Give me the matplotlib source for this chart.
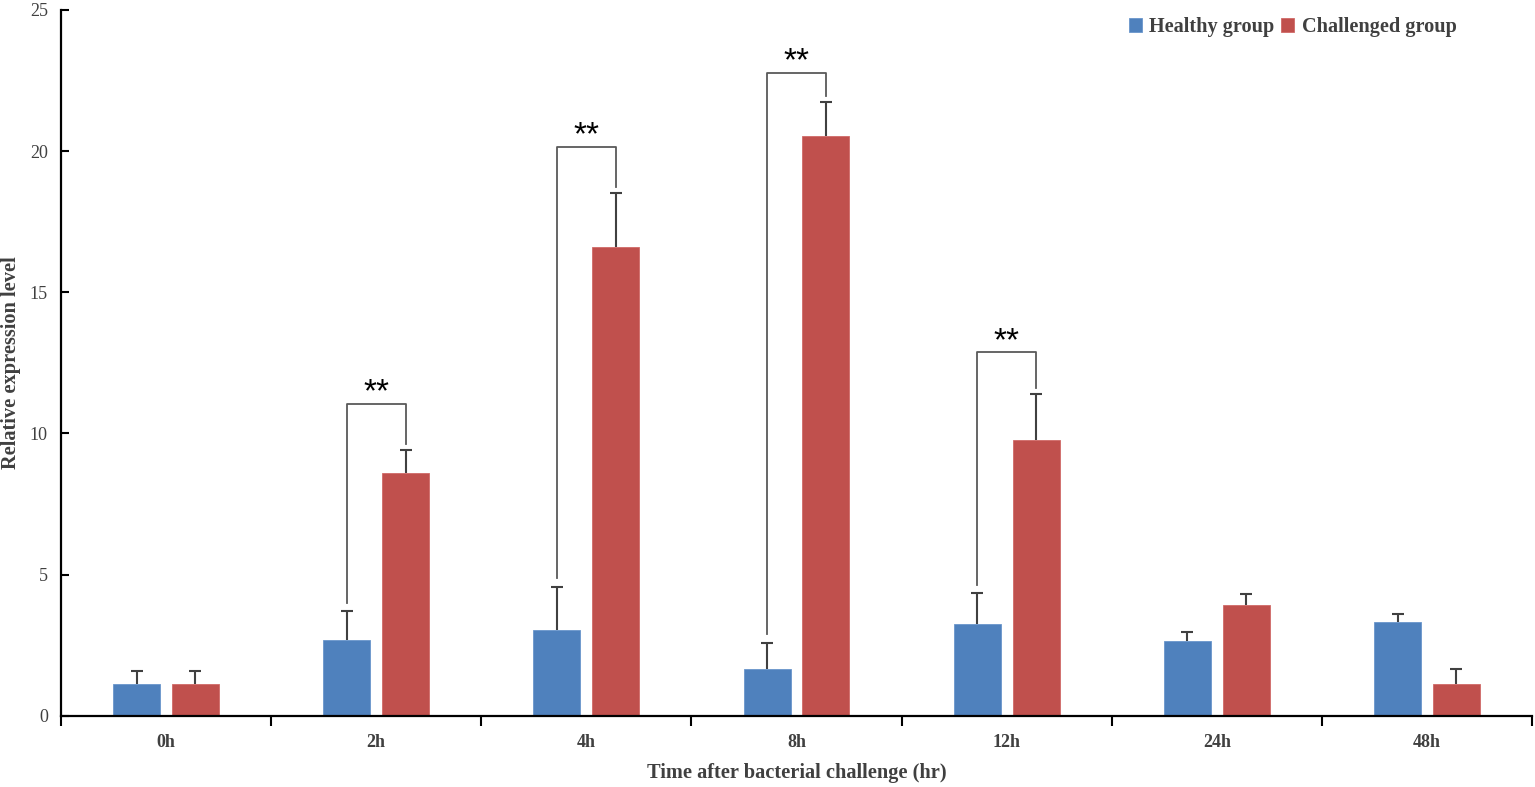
import matplotlib
matplotlib.use("Agg")
import matplotlib.pyplot as plt
import numpy as np

categories = ["0h", "2h", "4h", "8h", "12h", "24h", "48h"]
healthy = [1.13, 2.69, 3.05, 1.66, 3.26, 2.66, 3.33]
healthy_err = [0.47, 1.01, 1.52, 0.92, 1.08, 0.31, 0.26]
challenged = [1.13, 8.60, 16.61, 20.55, 9.76, 3.92, 1.11]
challenged_err = [0.47, 0.82, 1.89, 1.19, 1.63, 0.38, 0.53]

sig_index = [1, 2, 3, 4]
sig_top = [11.05, 20.15, 22.78, 12.87]
sig_label = ["**", "**", "**", "**"]

blue = "#4F81BD"
red = "#C0504D"
serif = ["Liberation Serif", "DejaVu Serif"]

fig = plt.figure(figsize=(15.35, 7.87), dpi=100)
ax = fig.add_axes([61/1535, 71.3/787, 1471/1535, 705.7/787])

x = np.arange(len(categories))
off = 0.14
w = 0.224
ax.bar(x - off, healthy, w, color=blue, edgecolor="#6A96CC", linewidth=0.6, zorder=2,
       label="Healthy group")
ax.bar(x + off, challenged, w, color=red, edgecolor="#D06A67", linewidth=0.6, zorder=2,
       label="Challenged group")
for xs, ys, es in [(x - off, healthy, healthy_err), (x + off, challenged, challenged_err)]:
    cont = ax.errorbar(xs, ys, yerr=[np.zeros(len(x)), es], fmt="none",
                       ecolor="#404040", elinewidth=1.5, capsize=4, capthick=1.5, zorder=3)
    caps = cont.lines[1]
    if len(caps) >= 2:
        caps[0].set_visible(False)

gap = 0.3
for i, top, lab in zip(sig_index, sig_top, sig_label):
    x1 = i - off
    x2 = i + off
    y1 = healthy[i] + healthy_err[i] + gap
    y2 = challenged[i] + challenged_err[i] + 0.22
    ax.plot([x1, x1, x2, x2], [y1, top, top, y2], color="#595959", lw=1.3, zorder=3)
    ax.text(i, top + 0.08, lab, ha="center", va="baseline", fontsize=24,
            family=["Liberation Sans", "DejaVu Sans"], color="black")

ax.set_xlim(-0.5, len(categories) - 0.5)
ax.set_ylim(0, 25)
ax.set_yticks([0, 5, 10, 15, 20, 25])
ax.set_xticks(x)
ax.set_xticklabels(categories)
ax.set_xticks(np.arange(-0.5, len(categories) + 0.5, 1), minor=True)
ax.tick_params(axis="x", which="major", length=0, pad=13)
ax.tick_params(axis="x", which="minor", direction="out", length=7, width=1.5, color="black")
ax.tick_params(axis="y", direction="in", length=6, width=1.5, pad=9.5, color="black")

for lbl in ax.get_xticklabels():
    lbl.set_fontfamily(serif)
    lbl.set_fontweight("bold")
    lbl.set_fontsize(13)
    lbl.set_color("#404040")
for lbl in ax.get_yticklabels():
    lbl.set_fontfamily(serif)
    lbl.set_fontsize(13)
    lbl.set_color("#404040")

for s in ["top", "right"]:
    ax.spines[s].set_visible(False)
for s in ["left", "bottom"]:
    ax.spines[s].set_linewidth(1.6)
    ax.spines[s].set_color("black")

ax.set_xlabel("Time after bacterial challenge (hr)", fontfamily=serif, fontweight="bold",
              fontsize=14.7, color="#404040", labelpad=9)
ax.set_ylabel("Relative expression level", fontfamily=serif, fontweight="bold",
              fontsize=14.7, color="#404040")
ax.yaxis.set_label_coords(-0.0272, 0.5)

leg = ax.legend(loc="upper right", bbox_to_anchor=(0.961, 1.016), ncol=2, frameon=False,
                handlelength=0.65, handleheight=0.65, handletextpad=0.35, columnspacing=0.35,
                prop={"family": serif, "weight": "bold", "size": 14.6})
for t in leg.get_texts():
    t.set_color("#404040")

fig.savefig("out.png", dpi=100)
